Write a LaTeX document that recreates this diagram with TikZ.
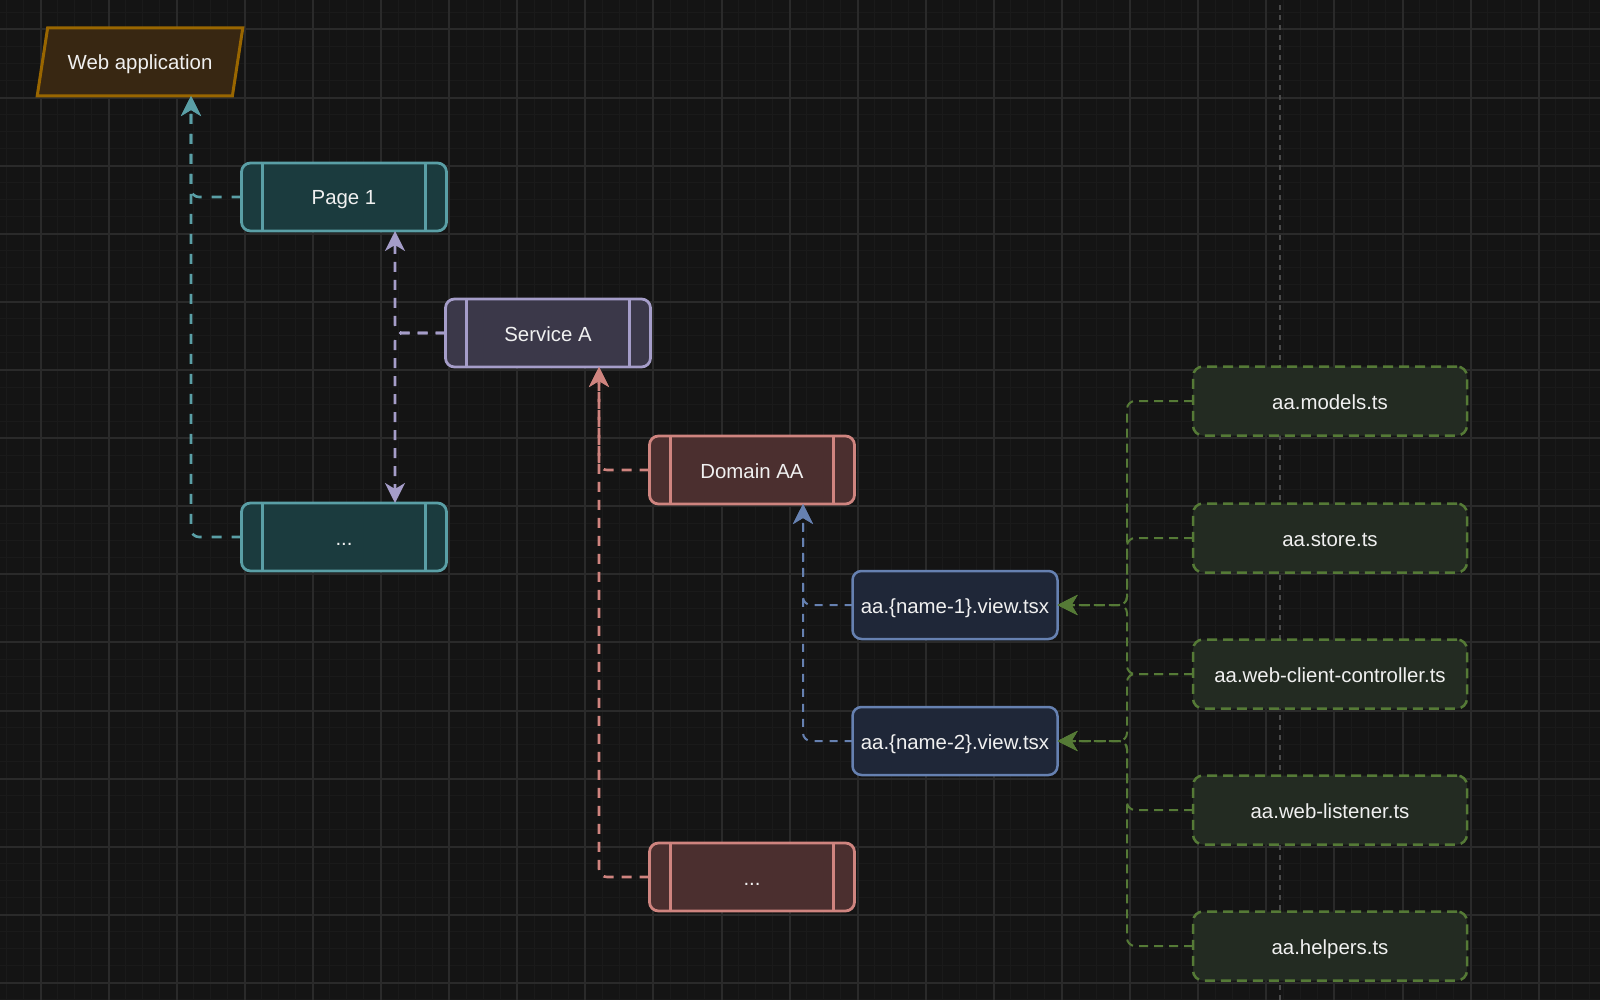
\documentclass[tikz,border=0pt]{standalone}
\usepackage{fontspec}
\setmainfont{Liberation Sans}
\usepackage{xcolor}
\usetikzlibrary{shapes.geometric,arrows.meta}
\definecolor{canvas}{HTML}{141414}
\definecolor{gridmajor}{HTML}{2A2A2A}
\definecolor{gridminor}{HTML}{1A1A1A}
\definecolor{guide}{HTML}{4A4A4A}
\definecolor{inktext}{HTML}{F0F0F0}
\definecolor{appfill}{HTML}{382712}
\definecolor{appline}{HTML}{996600}
\definecolor{pagefill}{HTML}{1B3B3E}
\definecolor{pageline}{HTML}{5A9FA6}
\definecolor{svcfill}{HTML}{3B3849}
\definecolor{svcline}{HTML}{A59DC9}
\definecolor{domfill}{HTML}{4B2F2F}
\definecolor{domline}{HTML}{CF847F}
\definecolor{viewfill}{HTML}{1F2738}
\definecolor{viewline}{HTML}{6681B1}
\definecolor{filefill}{HTML}{232B22}
\definecolor{fileline}{HTML}{557A36}
\tikzset{
    x=0.5pt, y=-0.5pt,
    label font/.style={font=\fontsize{10.2}{12}\selectfont, text=inktext, text height=8pt, text depth=0pt},
    tip/.style={-{Stealth[length=10pt,width=10pt,inset=3pt]}},
    appbox/.style={
        trapezium,
        trapezium left angle=63,
        trapezium right angle=117,
        trapezium stretches=true,
        minimum width=103pt,
        minimum height=34pt,
        inner sep=0pt,
        outer sep=0pt,
        fill=appfill,
        draw=appline,
        line width=1.5pt,
        label font
    },
    proc/.style={
        rectangle,
        rounded corners=4.5pt,
        minimum width=102.5pt,
        minimum height=34pt,
        inner sep=0pt,
        outer sep=0pt,
        line width=1.4pt,
        label font
    },
    procbar/.style={line width=1.1pt},
    viewbox/.style={proc, fill=viewfill, draw=viewline, line width=1.25pt},
    filebox/.style={
        proc,
        minimum width=137pt,
        minimum height=34.5pt,
        rounded corners=5pt,
        fill=filefill,
        draw=fileline,
        line width=1.25pt,
        dash pattern=on 5pt off 3pt
    },
    pageedge/.style={tip, draw=pageline, line width=1.3pt, dash pattern=on 5pt off 5pt, rounded corners=4pt},
    svcedge/.style={tip, draw=svcline, line width=1.3pt, dash pattern=on 5pt off 4pt, rounded corners=4pt},
    domedge/.style={tip, draw=domline, line width=1.3pt, dash pattern=on 5pt off 4pt, rounded corners=4pt},
    viewedge/.style={tip, draw=viewline, line width=1pt, dash pattern=on 4pt off 3.5pt, rounded corners=4pt},
    fileedge/.style={tip, draw=fileline, line width=1pt, dash pattern=on 4.5pt off 3pt, rounded corners=4pt}
}
\newcommand{\procbox}[4]{
    \node[proc,fill=#4fill,draw=#4line] (#1) at (#2) {#3};
    \draw[procbar,#4line] ([xshift=10.5pt]#1.north west) -- ([xshift=10.5pt]#1.south west);
    \draw[procbar,#4line] ([xshift=-10.5pt]#1.north east) -- ([xshift=-10.5pt]#1.south east);
}

\begin{document}
\begin{tikzpicture}
    \fill[canvas] (0,0) rectangle (1600,1000);
    \useasboundingbox (0,0) rectangle (1600,1000);
    \foreach \k in {-2,...,93}
        \draw[gridminor,line width=0.5pt] ({40.5+17.025*\k},0) -- ({40.5+17.025*\k},1000);
    \foreach \k in {-1,...,58}
        \draw[gridminor,line width=0.5pt] (0,{29.5+17.025*\k}) -- (1600,{29.5+17.025*\k});
    \foreach \k in {0,...,22}
        \draw[gridmajor,line width=1pt] ({40.5+68.1*\k},0) -- ({40.5+68.1*\k},1000);
    \foreach \k in {0,...,14}
        \draw[gridmajor,line width=1pt] (0,{29.5+68.1*\k}) -- (1600,{29.5+68.1*\k});
    \draw[guide,line width=1pt,dash pattern=on 2.5pt off 2.5pt] (1280,5) -- (1280,1000);

    \node[appbox] (webapp) at (140,62) {Web application};
    \procbox{page1}{344,197}{Page 1}{page}
    \procbox{pagedots}{344,537}{...}{page}
    \procbox{svca}{548,333}{Service A}{svc}
    \procbox{domaa}{752,470}{Domain AA}{dom}
    \procbox{domdots}{752,877}{...}{dom}
    \node[viewbox] (view1) at (955,605) {aa.\{name-1\}.view.tsx};
    \node[viewbox] (view2) at (955,741) {aa.\{name-2\}.view.tsx};
    \node[filebox] (models) at (1330,401) {aa.models.ts};
    \node[filebox] (store) at (1330,538) {aa.store.ts};
    \node[filebox] (wcc) at (1330,674) {aa.web-client-controller.ts};
    \node[filebox] (listener) at (1330,810) {aa.web-listener.ts};
    \node[filebox] (helpers) at (1330,946) {aa.helpers.ts};

    \coordinate (applane) at (191,0);
    \coordinate (svclane) at (395,0);
    \coordinate (domlane) at (599,0);
    \coordinate (viewlane) at (803,0);
    \coordinate (filelane) at (1127,0);

    \draw[pageedge] (page1.west) -| (applane |- webapp.south);
    \draw[pageedge] (pagedots.west) -| (applane |- webapp.south);
    \draw[svcedge] (svca.west) -| (svclane |- page1.south);
    \draw[svcedge] (svca.west) -| (svclane |- pagedots.north);
    \draw[domedge] (domaa.west) -| (domlane |- svca.south);
    \draw[domedge] (domdots.west) -| (domlane |- svca.south);
    \draw[viewedge] (view1.west) -| (viewlane |- domaa.south);
    \draw[viewedge] (view2.west) -| (viewlane |- domaa.south);
    \foreach \src/\dst in {models/view1,store/view1,wcc/view1,wcc/view2,listener/view2,helpers/view2}
        \draw[fileedge] (\src.west) -- (filelane |- \src.west) |- (\dst.east);
\end{tikzpicture}
\end{document}
